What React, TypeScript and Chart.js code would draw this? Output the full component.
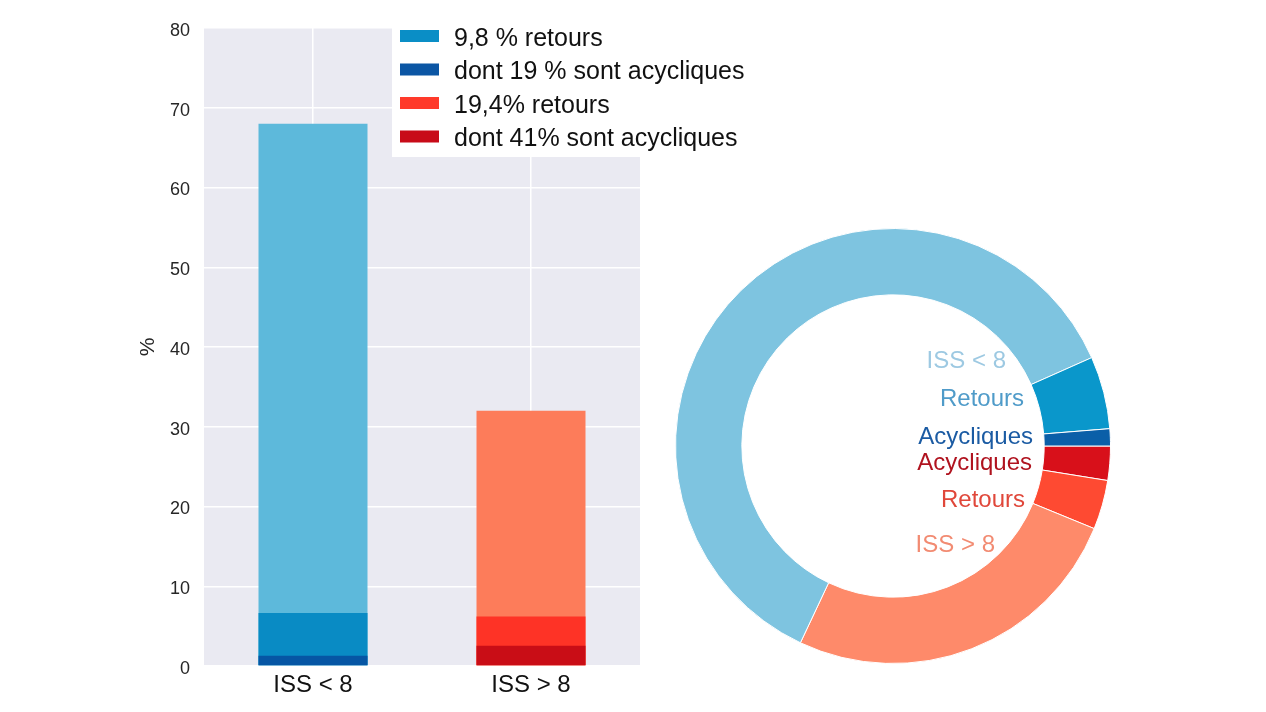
import React, { useEffect, useRef } from 'react';
import { Chart, registerables } from 'chart.js';

Chart.register(...registerables);

const FONT = '"Liberation Sans", Arial, Helvetica, sans-serif';

// ---- Bar chart data ----
const categories = ['ISS < 8', 'ISS > 8'];
const totalValues = [68, 32];
const retoursValues = [6.66, 6.2];
const acycliquesValues = [1.27, 2.54];
const yMin = 0;
const yMax = 80;
const yStep = 10;

const totalColors = ['#5db9db', '#fd7c5a'];
const retoursColors = ['#098bc4', '#fe3326'];
const acycliquesColors = ['#0656a4', '#c90d16'];

const legendLabels = ['9,8 % retours', 'dont 19 % sont acycliques', '19,4% retours', 'dont 41% sont acycliques'];
const legendColors = ['#0a8ec6', '#0b56a4', '#ff3a2a', '#c80b18'];

// ---- Doughnut data (clockwise from 3 o'clock) ----
const donutLabels = ['Acycliques', 'Retours', 'ISS > 8', 'ISS < 8', 'Retours', 'Acycliques'];
const donutValues = [2.54, 3.66, 25.8, 61.34, 5.39, 1.27];
const donutColors = ['#d8101a', '#fe4a32', '#fe8a6a', '#7ec4e0', '#0a97cb', '#0b5fa8'];
const donutTextColors = ['#b0131f', '#e0473a', '#f28b72', '#9dc9e2', '#4f9bc9', '#1b5ba3'];

const bgPlugin = {
  id: 'bgPlugin',
  beforeDraw(chart: any) {
    const { ctx, chartArea } = chart;
    ctx.save();
    ctx.fillStyle = '#eaeaf2';
    ctx.fillRect(chartArea.left, chartArea.top, chartArea.right - chartArea.left, chartArea.bottom - chartArea.top);
    ctx.restore();
  },
};

const legendPlugin = {
  id: 'customLegend',
  afterDraw(chart: any) {
    const { ctx } = chart;
    ctx.save();
    ctx.fillStyle = '#ffffff';
    ctx.fillRect(392, 24, 372, 133);
    const rows = [36, 69.5, 103, 136.5];
    ctx.font = `25px ${FONT}`;
    ctx.textAlign = 'left';
    ctx.textBaseline = 'alphabetic';
    legendLabels.forEach((lab, i) => {
      ctx.fillStyle = legendColors[i];
      ctx.fillRect(400, rows[i] - 6, 39, 12);
      ctx.fillStyle = '#111111';
      ctx.fillText(lab, 454, rows[i] + 9.5);
    });
    ctx.restore();
  },
};

const donutTextPlugin = {
  id: 'donutText',
  afterDraw(chart: any) {
    const { ctx, chartArea } = chart;
    const cx = (chartArea.left + chartArea.right) / 2;
    const cy = (chartArea.top + chartArea.bottom) / 2;
    // [index into donut arrays, right x offset, baseline y offset]
    const place: [number, number, number][] = [
      [3, 113, -78],
      [4, 131, -40],
      [5, 140, -2],
      [0, 139, 24],
      [1, 132, 61],
      [2, 102, 106],
    ];
    ctx.save();
    ctx.font = `24px ${FONT}`;
    ctx.textAlign = 'right';
    ctx.textBaseline = 'alphabetic';
    place.forEach(([i, dx, dy]) => {
      ctx.fillStyle = donutTextColors[i];
      ctx.fillText(donutLabels[i], cx + dx, cy + dy);
    });
    ctx.restore();
  },
};

export default function App() {
  const barRef = useRef<HTMLCanvasElement>(null);
  const donutRef = useRef<HTMLCanvasElement>(null);

  useEffect(() => {
    const bar = new Chart(barRef.current as HTMLCanvasElement, {
      type: 'bar',
      data: {
        labels: categories,
        datasets: [
          { label: 'acycliques', data: acycliquesValues, backgroundColor: acycliquesColors, grouped: false } as any,
          { label: 'retours', data: retoursValues, backgroundColor: retoursColors, grouped: false } as any,
          { label: 'total', data: totalValues, backgroundColor: totalColors, grouped: false } as any,
        ],
      },
      options: {
        responsive: false,
        animation: false,
        devicePixelRatio: 1,
        layout: { padding: { left: 132, right: 140, top: 28, bottom: 0 } },
        datasets: { bar: { categoryPercentage: 0.5, barPercentage: 1 } },
        plugins: { legend: { display: false }, tooltip: { enabled: false } },
        scales: {
          x: {
            offset: true,
            grid: { color: '#ffffff', lineWidth: 1.5, offset: false, drawTicks: false },
            border: { display: false },
            ticks: { color: '#111111', font: { family: FONT, size: 24 }, padding: 5 },
            afterFit: (s: any) => { s.height = 46; },
          },
          y: {
            min: yMin,
            max: yMax,
            grid: { color: '#ffffff', lineWidth: 1.5, drawTicks: false },
            border: { display: false },
            ticks: { stepSize: yStep, color: '#262626', font: { family: FONT, size: 18 }, padding: 14, labelOffset: 3 },
            title: { display: true, text: '%', color: '#262626', font: { family: FONT, size: 21 } },
            afterFit: (s: any) => { s.width = 72; },
          },
        },
      },
      plugins: [bgPlugin, legendPlugin],
    });

    const donut = new Chart(donutRef.current as HTMLCanvasElement, {
      type: 'doughnut',
      data: {
        labels: donutLabels,
        datasets: [
          {
            data: donutValues,
            backgroundColor: donutColors,
            borderColor: '#ffffff',
            borderWidth: 1,
          },
        ],
      },
      options: {
        responsive: false,
        animation: false,
        devicePixelRatio: 1,
        rotation: 90,
        cutout: '69.5%',
        plugins: { legend: { display: false }, tooltip: { enabled: false } },
      },
      plugins: [donutTextPlugin],
    });

    return () => {
      bar.destroy();
      donut.destroy();
    };
  }, []);

  return (
    <div style={{ position: 'fixed', left: 0, top: 0, width: 1266, height: 712, background: '#ffffff' }}>
      <canvas ref={barRef} width={780} height={712} style={{ position: 'absolute', left: 0, top: 0 }} />
      <canvas ref={donutRef} width={436} height={436} style={{ position: 'absolute', left: 675, top: 228 }} />
    </div>
  );
}
